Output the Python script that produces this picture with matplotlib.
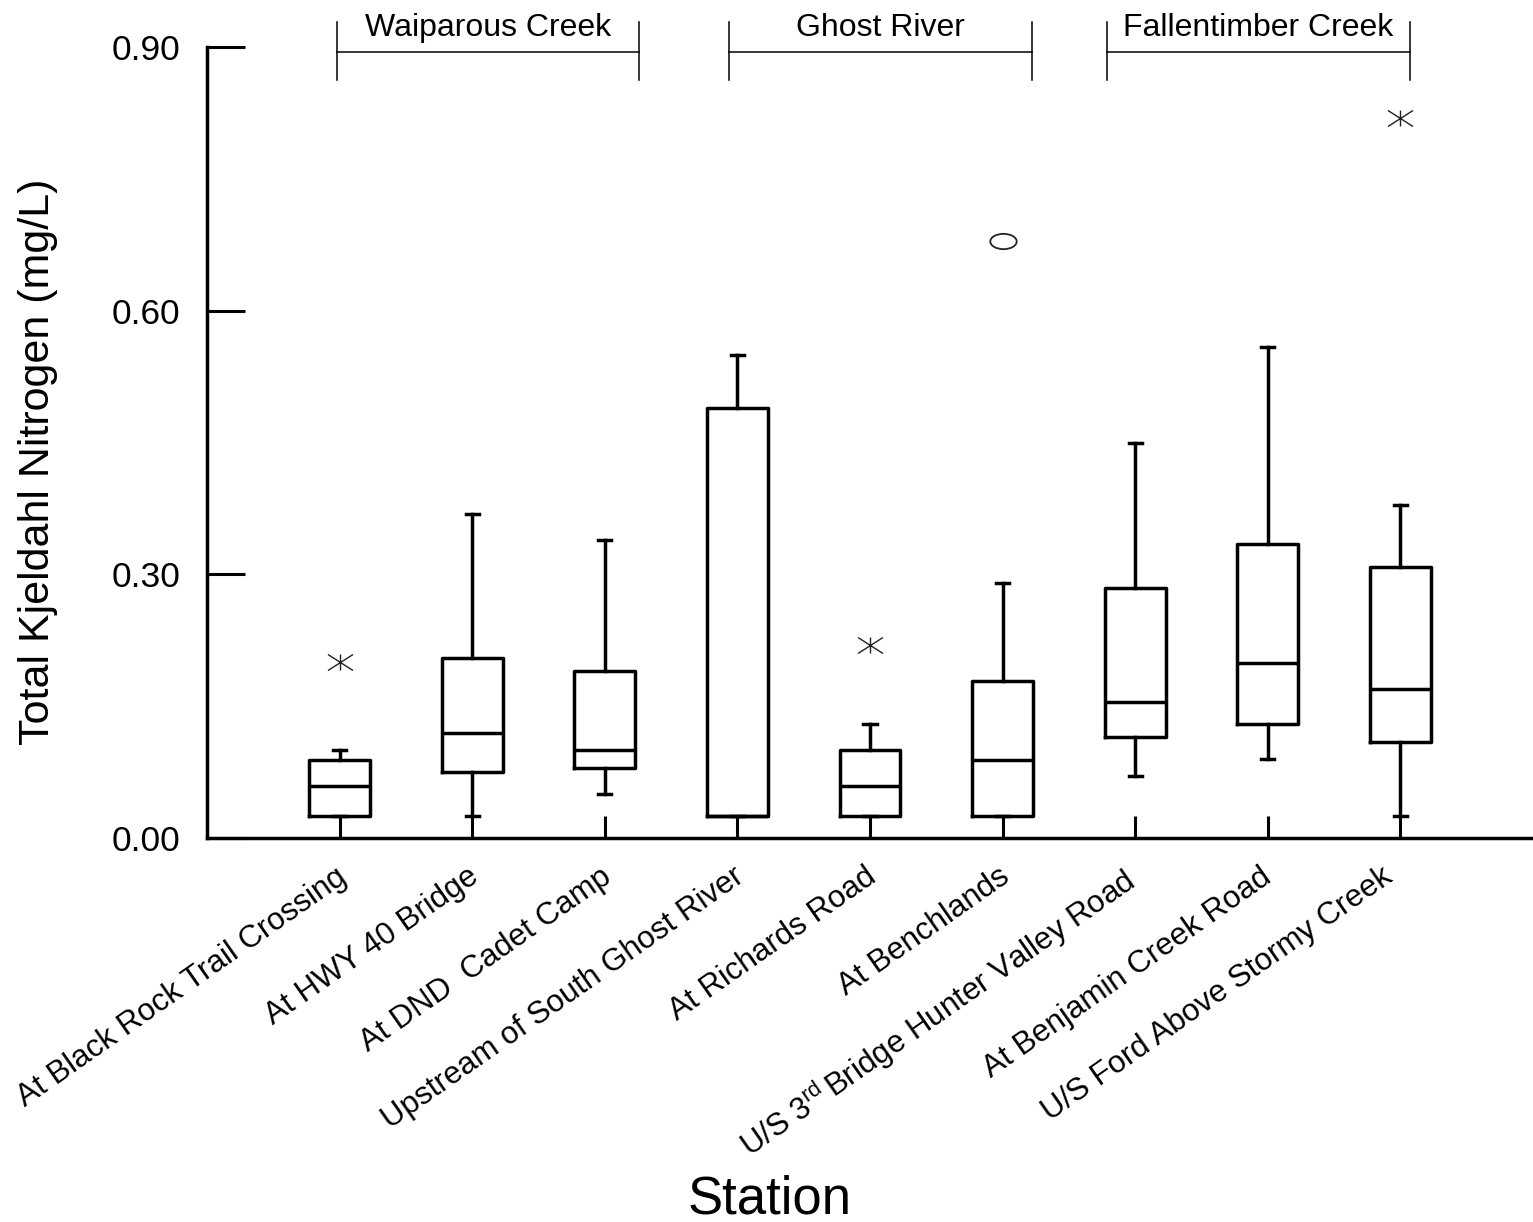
import numpy as np
import matplotlib
matplotlib.use("Agg")
import matplotlib.pyplot as plt
from matplotlib.path import Path
from matplotlib.transforms import ScaledTranslation

plt.rcParams['font.family'] = ['Liberation Sans', 'DejaVu Sans']
plt.rcParams['mathtext.fontset'] = 'custom'
plt.rcParams['mathtext.rm'] = 'Liberation Sans'
plt.rcParams['mathtext.it'] = 'Liberation Sans:italic'

# ---- data ----
stations = [
    "At Black Rock Trail Crossing",
    "At HWY 40 Bridge",
    "At DND  Cadet Camp",
    "Upstream of South Ghost River",
    "At Richards Road",
    "At Benchlands",
    r"U/S 3$^{\rm rd}\,$Bridge Hunter Valley Road",
    "At Benjamin Creek Road",
    "U/S Ford Above Stormy Creek",
]
whisker_low = [0.025, 0.025, 0.05, 0.025, 0.025, 0.025, 0.07, 0.09, 0.025]
q1 = [0.025, 0.075, 0.08, 0.025, 0.025, 0.025, 0.115, 0.13, 0.109]
median = [0.059, 0.12, 0.10, 0.025, 0.059, 0.089, 0.155, 0.199, 0.17]
q3 = [0.089, 0.205, 0.19, 0.489, 0.10, 0.179, 0.284, 0.334, 0.308]
whisker_high = [0.10, 0.369, 0.339, 0.55, 0.13, 0.29, 0.45, 0.559, 0.379]

# outliers
star_station = [1, 5, 9]
star_value = [0.20, 0.22, 0.819]
circle_station = [6]
circle_value = [0.679]

groups = ["Waiparous Creek", "Ghost River", "Fallentimber Creek"]
group_start = [0.977, 3.94, 6.79]
group_end = [3.257, 6.22, 9.07]

yticks = [0.0, 0.30, 0.60, 0.90]

# ---- figure ----
fig = plt.figure(figsize=(15.33, 12.22), dpi=100)
ax = fig.add_axes([207/1533, 1-838/1222, 1-207/1533, (838-47)/1222])

positions = np.arange(1, len(stations)+1)
stats = []
for i in range(len(stations)):
    stats.append(dict(med=median[i], q1=q1[i], q3=q3[i],
                      whislo=whisker_low[i], whishi=whisker_high[i], fliers=[]))

lw = 2.5
ax.bxp(stats, positions=positions, widths=0.46, showfliers=False,
       boxprops=dict(color='black', linewidth=lw),
       medianprops=dict(color='black', linewidth=lw),
       whiskerprops=dict(color='black', linewidth=lw),
       capprops=dict(color='black', linewidth=lw),
       capwidths=0.1, manage_ticks=False)

# custom markers
ast_path = Path([(0, -0.32), (0, 0.32), (-0.5, -0.32), (0.5, 0.32),
                 (-0.5, 0.32), (0.5, -0.32)],
                [Path.MOVETO, Path.LINETO, Path.MOVETO, Path.LINETO,
                 Path.MOVETO, Path.LINETO])
circ = Path.unit_circle()
ell_path = Path(circ.vertices * np.array([1.0, 0.58]), circ.codes)

ax.plot(star_station, star_value, linestyle='none', marker=ast_path,
        markersize=18, markeredgecolor='#222222', markerfacecolor='none',
        markeredgewidth=1.0, clip_on=False)
ax.plot(circle_station, circle_value, linestyle='none', marker=ell_path,
        markersize=19, markeredgecolor='#222222', markerfacecolor='none',
        markeredgewidth=1.3, clip_on=False)

# axes styling
ax.set_xlim(0, 10)
ax.set_ylim(0, 0.9)
ax.spines['top'].set_visible(False)
ax.spines['right'].set_visible(False)
ax.spines['left'].set_linewidth(2.5)
ax.spines['bottom'].set_linewidth(2.5)

ax.set_yticks(yticks)
ax.set_yticklabels([f"{v:.2f}" for v in yticks])
ax.tick_params(axis='y', direction='in', length=27, width=2.2, labelsize=25.5, pad=19)
ax.set_xticks(positions)
ax.set_xticklabels(stations, rotation=35, ha='right', va='top',
                   rotation_mode='anchor', fontsize=22.5)
ax.tick_params(axis='x', direction='in', length=16, width=2.2, pad=17)
label_nudge_px = [-5, -5, -5, -5, -5, -5, -15, -8, -20]
for lab, dx in zip(ax.get_xticklabels(), label_nudge_px):
    lab.set_transform(lab.get_transform() + ScaledTranslation(dx/100, 0, fig.dpi_scale_trans))

ax.set_ylabel("Total Kjeldahl Nitrogen (mg/L)", fontsize=31)
ax.yaxis.set_label_coords(-0.112, 0.475)
ax.set_xlabel("Station", fontsize=38)
ax.xaxis.set_label_coords(0.4246, -0.425)

# group brackets
for name, s, e in zip(groups, group_start, group_end):
    ax.plot([s, e], [0.894, 0.894], color='black', linewidth=1.1, clip_on=False)
    ax.plot([s, s], [0.862, 0.928], color='black', linewidth=1.1, clip_on=False)
    ax.plot([e, e], [0.862, 0.928], color='black', linewidth=1.1, clip_on=False)
    ax.text((s+e)/2, 0.922, name, ha='center', va='center', fontsize=23,
            clip_on=False)

fig.savefig("out.png", dpi=100)
